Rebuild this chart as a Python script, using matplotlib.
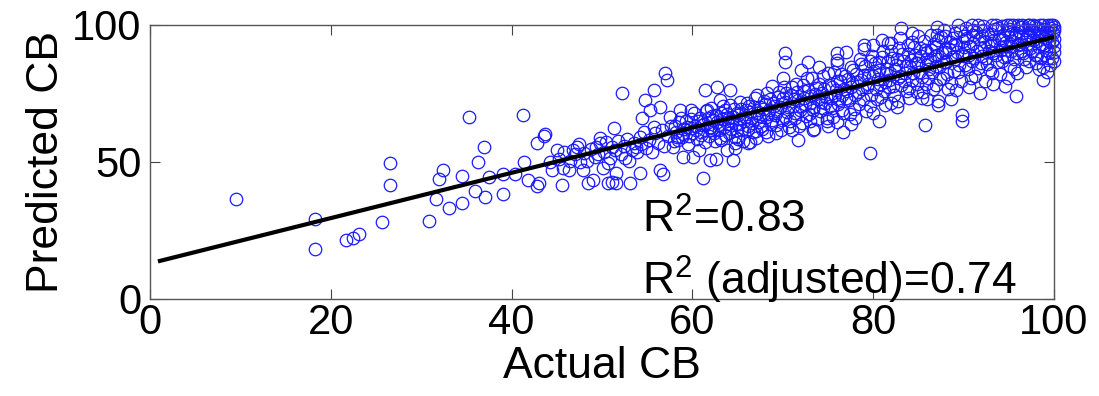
import numpy as np
import matplotlib
matplotlib.use("Agg")
import matplotlib.pyplot as plt

plt.rcParams['font.family'] = ['Liberation Sans', 'DejaVu Sans']
plt.rcParams['mathtext.default'] = 'regular'

# (actual, predicted) pairs, grouped by actual CB range
low_pts = [
    (9.5, 36.4), (18.2, 29.1), (18.2, 18.1), (21.7, 21.5), (22.5, 22.4), (23.1, 23.6),
    (25.7, 28.0), (26.5, 49.5), (26.6, 41.5), (30.9, 28.4), (31.6, 36.4), (32.0, 43.8),
    (32.4, 47.2), (33.1, 33.1), (34.5, 45.0), (34.5, 34.9), (35.3, 66.3), (36.3, 50.1),
    (36.9, 55.6), (36.0, 39.5), (37.1, 37.1), (37.5, 44.6), (39.1, 38.3), (39.1, 45.6),
    (40.4, 45.6), (41.3, 67.2), (41.4, 50.1), (41.8, 43.4), (42.8, 41.4), (42.8, 56.8),
    (43.6, 59.5), (43.7, 60.1), (43.0, 42.2), (44.3, 50.1), (44.5, 47.1), (45.0, 54.4),
    (45.6, 41.6),
]

mid_pts = [
    (45.7, 47.7), (46.3, 47.1), (46.8, 54.4), (47.2, 55.6), (47.6, 50.1), (47.9, 47.1),
    (48.5, 42.2), (49.0, 43.4), (49.2, 51.9), (49.8, 58.6), (49.8, 56.8), (50.1, 47.7),
    (50.7, 49.5), (50.7, 42.2), (51.1, 55.6), (51.3, 62.3), (51.6, 42.2), (51.6, 45.9),
    (52.2, 75.1), (52.5, 51.3), (53.1, 42.2), (53.3, 54.4), (53.8, 55.6), (54.2, 45.9),
    (54.2, 59.2), (54.4, 65.9), (54.8, 72.6), (55.3, 69.0), (55.7, 76.3), (55.7, 62.9),
    (56.4, 70.2), (56.4, 47.1), (57.0, 82.4), (57.2, 79.9), (57.5, 66.5), (57.9, 55.6),
    (58.3, 59.2), (58.6, 69.0), (59.0, 51.9), (59.4, 62.9), (59.9, 69.0), (60.1, 51.9),
    (60.7, 54.4), (61.2, 44.0), (61.4, 76.3), (61.6, 69.0), (61.9, 50.7), (62.1, 61.7),
    (62.3, 65.3), (62.7, 77.5), (63.1, 72.6), (63.2, 58.0), (63.6, 69.0), (63.8, 54.4),
    (64.2, 76.3), (64.5, 66.5), (64.5, 50.7), (64.7, 56.8), (64.9, 61.7),
    (51.1, 42.8), (56.7, 45.5), (62.6, 51.2), (64.7, 55.1),
    (45.2, 51.0), (45.8, 53.5), (46.5, 50.5), (47.0, 52.8), (47.5, 56.5), (48.0, 53.2),
    (48.3, 50.2), (48.8, 54.8), (49.3, 55.5), (49.6, 52.8), (50.2, 53.8), (50.5, 57.2),
    (50.9, 51.6), (51.4, 54.5), (51.8, 57.5), (52.1, 53.0), (52.4, 55.9), (52.8, 58.2),
    (53.0, 50.4), (53.5, 57.0), (53.9, 53.5), (54.3, 56.5), (54.6, 60.8), (54.9, 55.0),
    (55.2, 58.0), (55.5, 53.6), (55.9, 60.4), (56.2, 57.0), (56.6, 61.8), (56.9, 55.8),
    (57.3, 59.5), (57.6, 63.2), (58.0, 57.6), (58.2, 61.0), (58.5, 64.5), (58.8, 59.0),
    (59.1, 62.2), (59.5, 56.6), (59.8, 65.5), (60.0, 60.5),
    (60.3, 63.2), (60.5, 58.3), (60.8, 66.2), (61.0, 61.0), (61.3, 64.0), (61.5, 68.5),
    (61.8, 59.5), (62.0, 62.8), (62.2, 66.8), (62.5, 57.5), (62.7, 64.5), (63.0, 61.5),
    (63.2, 68.0), (63.4, 70.5), (63.6, 59.8), (63.9, 63.8), (64.1, 66.0), (64.3, 62.0),
    (64.6, 69.5), (64.8, 64.0), (65.0, 58.3),
    (58.1, 63.0), (58.4, 58.0), (58.7, 66.0), (59.0, 60.2), (59.3, 64.8), (59.6, 59.5),
    (59.9, 62.5), (60.2, 67.8), (60.4, 61.8), (60.6, 64.9), (60.9, 59.8), (61.1, 63.5),
    (61.4, 57.2), (61.7, 66.0), (61.9, 62.4), (62.1, 69.8), (62.4, 60.4), (62.6, 67.2),
    (62.9, 63.4), (63.1, 58.8), (63.3, 65.6), (63.5, 62.6), (63.8, 67.4), (64.0, 60.6),
    (64.2, 70.8), (64.4, 64.8), (64.7, 59.2), (64.9, 67.9),
]

upper_pts = [
    (65.1, 67.2), (65.3, 72.0), (65.5, 61.5), (65.7, 65.0),
    (65.9, 68.8), (66.1, 63.2), (66.3, 70.5), (66.5, 66.0), (66.7, 60.8), (66.9, 73.4),
    (67.1, 67.8), (67.3, 64.5), (67.5, 69.9), (67.7, 62.0), (67.9, 72.2), (68.1, 66.5),
    (68.3, 75.0), (68.5, 69.0), (68.7, 63.8), (68.9, 71.4), (69.1, 67.0), (69.3, 60.5),
    (69.5, 73.8), (69.7, 70.0), (69.9, 65.4), (70.1, 77.5), (70.3, 71.8), (70.5, 68.2),
    (70.7, 62.8), (70.9, 74.6), (71.1, 70.6), (71.3, 66.0), (71.5, 78.4), (71.7, 72.5),
    (71.9, 68.8), (72.1, 64.2), (72.3, 75.8), (72.5, 71.0), (72.7, 80.5), (72.9, 67.4),
    (73.1, 73.9), (73.3, 70.2), (73.5, 62.0), (73.7, 77.0), (73.9, 72.8), (74.1, 68.5),
    (74.3, 75.2), (74.5, 81.5), (74.7, 71.6), (74.9, 66.0), (75.1, 78.0), (75.3, 73.5),
    (75.5, 69.7), (75.7, 83.0), (75.9, 76.2), (76.1, 71.2), (76.3, 79.5), (76.5, 74.4),
    (76.7, 67.8),
    (66.2, 57.0), (67.0, 58.8), (68.8, 77.8), (70.0, 80.8), (71.0, 61.5), (72.0, 83.5),
    (73.0, 65.0), (74.0, 84.5), (75.0, 63.0), (76.0, 86.0),
    (70.2, 89.7), (70.2, 86.3), (72.8, 86.6), (76.0, 89.7), (76.0, 87.2), (79.0, 92.7),
    (80.0, 92.7), (81.6, 93.4), (79.7, 53.2), (76.7, 61.1), (73.3, 61.5), (71.7, 58.0),
    (68.4, 59.6), (66.4, 57.4), (74.9, 65.0), (76.0, 64.5),
    (76.9, 81.2), (77.1, 76.0), (77.3, 72.5), (77.5, 84.6), (77.7, 78.8), (77.9, 69.5),
    (78.1, 82.0), (78.3, 75.4), (78.5, 87.5), (78.7, 79.8), (78.9, 73.0), (79.1, 85.0),
    (79.3, 77.2), (79.5, 81.6), (79.7, 70.5), (79.9, 88.8), (80.1, 83.2), (80.3, 76.6),
    (80.5, 80.2), (80.7, 86.4), (80.9, 73.8), (81.1, 90.5), (81.3, 79.0), (81.5, 84.0),
    (81.7, 77.4), (81.9, 82.6), (82.1, 88.0), (82.3, 74.5), (82.5, 85.5), (82.7, 80.6),
    (82.9, 91.5), (83.1, 78.2), (83.3, 86.8), (83.5, 82.4), (83.7, 76.0), (83.9, 89.5),
    (84.1, 84.5), (84.3, 80.0), (84.5, 92.0), (84.7, 86.0), (84.9, 78.6),
    (77.0, 90.0), (78.0, 66.2), (79.0, 91.2), (80.0, 68.0), (81.0, 94.5), (82.0, 71.5),
    (83.0, 95.2), (84.0, 73.5), (77.6, 63.8), (80.6, 64.8),
    (83.1, 98.8), (84.3, 97.0), (84.3, 93.9), (82.0, 93.3), (82.6, 70.2), (81.3, 70.8),
    (65.2, 63.8), (65.4, 69.4), (65.6, 57.8), (65.8, 66.4), (66.0, 71.6), (66.2, 62.2),
    (66.4, 68.1), (66.6, 64.2), (66.8, 70.2), (67.0, 61.4), (67.2, 74.6), (67.4, 66.8),
    (67.6, 63.0), (67.8, 69.2), (68.0, 71.0), (68.2, 61.0), (68.4, 67.6), (68.6, 73.0),
    (68.8, 65.2), (69.0, 70.4), (69.2, 63.4), (69.4, 68.6), (69.6, 75.6), (69.8, 61.8),
    (70.0, 73.4), (70.2, 66.4), (70.4, 75.0), (70.6, 70.0), (70.8, 65.0), (71.0, 77.2),
    (71.2, 73.0), (71.4, 68.0), (71.6, 75.4), (71.8, 63.2), (72.0, 70.4), (72.2, 78.0),
    (72.4, 73.2), (72.6, 66.6), (72.8, 76.4), (73.0, 71.4), (73.2, 80.6), (73.4, 68.8),
    (73.6, 74.8), (73.8, 65.6), (74.0, 78.6), (74.2, 72.0), (74.4, 69.6), (74.6, 76.8),
    (74.8, 73.8), (75.0, 82.6), (75.2, 70.6), (75.4, 77.4), (75.6, 66.4), (75.8, 74.4),
    (76.0, 79.6), (76.2, 72.6), (76.4, 82.2), (76.6, 69.0), (76.8, 76.6), (77.0, 73.2),
    (77.2, 80.4), (77.4, 67.4), (77.6, 77.4), (77.8, 83.6), (78.0, 74.4), (78.2, 79.0),
    (78.4, 71.2), (78.6, 85.8), (78.8, 76.6), (79.0, 81.8), (79.2, 68.6), (79.4, 78.6),
    (79.6, 87.0), (79.8, 74.6),
    (80.0, 81.2), (80.2, 86.0), (80.4, 73.0), (80.6, 83.4), (80.8, 78.4), (81.0, 88.4),
    (81.2, 75.8), (81.4, 82.2), (81.6, 86.8), (81.8, 80.0), (82.0, 90.4), (82.2, 77.6),
    (82.4, 83.8), (82.6, 87.6), (82.8, 72.4), (83.0, 81.4), (83.2, 89.4), (83.4, 79.6),
    (83.6, 85.2), (83.8, 92.6), (84.0, 77.0), (84.2, 87.2), (84.4, 82.6), (84.6, 89.0),
    (84.8, 75.6),
]

top_pts = [
    (85.1, 83.0), (85.3, 88.6), (85.5, 75.5), (85.7, 90.8), (85.9, 85.4), (86.1, 80.5),
    (85.0, 95.8), (86.0, 72.8),
    (86.3, 87.2), (86.5, 82.8), (86.7, 93.0), (86.9, 78.0), (87.1, 89.0), (87.3, 84.6),
    (87.5, 95.5), (87.7, 80.8), (87.9, 91.2), (88.1, 86.5), (88.3, 76.5), (88.5, 93.8),
    (88.7, 88.4), (88.9, 83.2), (89.1, 97.0), (89.3, 90.0), (89.5, 85.5), (89.7, 79.5),
    (89.9, 94.2), (90.1, 88.8), (90.3, 99.0), (90.5, 84.0), (90.7, 92.5), (90.9, 87.0),
    (91.1, 96.2), (91.3, 81.5), (91.5, 90.5), (91.7, 94.8), (91.9, 86.2), (92.1, 99.5),
    (92.3, 91.8), (92.5, 88.0), (92.7, 96.8), (92.9, 83.6), (93.1, 93.5), (93.3, 89.6),
    (93.5, 98.4), (93.7, 86.5), (93.9, 95.0), (94.1, 91.0), (94.3, 99.6), (94.5, 88.2),
    (94.7, 93.8), (94.9, 97.5), (95.1, 85.0), (95.3, 92.2), (95.5, 99.8), (95.7, 95.6),
    (95.9, 89.8), (96.1, 97.8), (96.3, 93.2), (96.5, 99.2), (96.7, 87.5), (96.9, 95.0),
    (97.1, 100.0), (97.3, 91.6), (97.5, 98.0), (97.7, 94.4), (97.9, 99.6), (98.1, 89.2),
    (98.3, 96.6), (98.5, 100.0), (98.7, 93.0), (98.9, 98.6), (99.1, 91.0), (99.3, 99.8),
    (99.5, 95.8), (99.7, 100.0), (99.8, 88.0), (99.9, 97.0), (100.0, 92.5), (100.0, 99.2),
    (99.6, 85.5), (99.2, 82.8),
    (86.4, 96.5), (87.8, 98.0), (88.6, 72.8), (89.4, 100.0), (90.6, 77.5), (91.6, 100.0),
    (92.4, 79.5), (93.2, 100.0), (94.0, 82.0), (94.8, 100.0), (95.6, 84.0), (96.4, 90.6),
    (97.2, 87.0), (98.0, 86.0), (98.8, 84.8), (99.4, 90.2), (100.0, 95.0), (100.0, 87.0),
    (96.0, 100.0), (97.0, 96.0), (98.4, 97.8), (99.0, 95.2), (99.9, 100.0), (95.2, 96.6),
    (94.2, 94.6), (93.0, 92.6), (92.0, 95.8), (91.0, 98.2), (90.0, 96.0), (89.0, 93.0),
    (88.0, 90.0), (87.0, 92.0), (86.0, 90.0),
    (87.1, 99.4), (87.1, 96.4), (90.9, 100.0), (93.6, 100.0), (95.1, 100.0), (96.5, 100.0),
    (97.7, 100.0), (85.7, 63.5), (89.8, 67.2), (89.8, 65.0), (95.8, 74.2), (98.8, 80.0),
    (91.8, 75.1), (94.6, 77.8), (93.3, 78.6), (87.2, 70.8), (87.2, 72.2), (85.4, 73.2),
    (89.2, 76.3), (98.4, 84.0),
    (85.0, 86.2), (85.2, 91.6), (85.4, 81.0), (85.6, 94.0), (85.8, 78.4), (86.0, 87.6),
    (86.2, 83.8), (86.4, 91.0), (86.6, 76.8), (86.8, 88.8), (87.0, 85.2), (87.2, 94.6),
    (87.4, 80.4), (87.6, 89.8), (87.8, 86.6), (88.0, 96.0), (88.2, 82.2), (88.4, 91.4),
    (88.6, 78.8), (88.8, 95.2), (89.0, 87.4), (89.2, 92.6), (89.4, 83.0), (89.6, 97.8),
    (89.8, 89.4),
    (90.0, 91.8), (90.2, 85.4), (90.4, 95.4), (90.6, 89.2), (90.8, 80.6), (91.0, 93.4),
    (91.2, 87.8), (91.4, 97.4), (91.6, 84.2), (91.8, 91.6), (92.0, 88.6), (92.2, 98.0),
    (92.4, 93.8), (92.6, 85.8), (92.8, 90.4), (93.0, 96.8), (93.2, 82.6), (93.4, 94.6),
    (93.6, 89.0), (93.8, 99.0), (94.0, 91.8), (94.2, 86.8), (94.4, 96.4), (94.6, 92.4),
    (94.8, 88.8), (95.0, 98.6), (95.2, 90.6), (95.4, 94.0), (95.6, 87.4), (95.8, 97.2),
    (96.0, 92.8), (96.2, 99.4), (96.4, 95.8), (96.6, 89.6), (96.8, 98.2), (97.0, 93.0),
    (97.2, 99.8), (97.4, 96.2), (97.6, 90.4), (97.8, 97.6), (98.0, 94.2), (98.2, 99.0),
    (98.4, 91.8), (98.6, 96.0), (98.8, 100.0), (99.0, 92.8), (99.2, 97.8), (99.4, 94.0),
    (99.6, 99.0), (99.8, 93.6), (100.0, 98.0), (100.0, 90.0), (99.3, 88.0), (98.6, 87.8),
    (97.9, 89.0), (96.9, 84.6), (95.9, 82.4), (94.9, 80.8),
]

# least squares line as drawn
fit_x = [1.1, 100.0]
fit_y = [13.9, 95.6]

r2_text = "R$^2$=0.83"
r2_adj_text = "R$^2$ (adjusted)=0.74"

pts = np.array(low_pts + mid_pts + upper_pts + top_pts)

fig = plt.figure(figsize=(10.99, 3.96), dpi=100)
ax = fig.add_axes([0.1365, 0.245, 0.8225, 0.692])

ax.plot(pts[:, 0], pts[:, 1], 'o', markersize=9, markerfacecolor='none',
        markeredgecolor=(0.1, 0.1, 1.0), markeredgewidth=0.9, clip_on=False, zorder=2)
ax.plot(fit_x, fit_y, color='black', linewidth=3, zorder=3)

ax.text(54.4, 24.1, r2_text, fontsize=32, va='baseline', ha='left')
ax.text(54.4, 1.5, r2_adj_text, fontsize=32, va='baseline', ha='left')

ax.set_xlim(0, 100)
ax.set_ylim(0, 100)
ax.set_xticks([0, 20, 40, 60, 80, 100])
ax.set_yticks([0, 50, 100])
ax.tick_params(direction='in', length=7, width=0.8, labelsize=30, top=True, right=True,
               color='#444444')
ax.tick_params(axis='x', pad=3)
ax.tick_params(axis='y', pad=6)
for s in ax.spines.values():
    s.set_linewidth(1.0)
    s.set_color('#555555')

ax.set_xlabel("Actual CB", fontsize=32, labelpad=2)
ax.set_ylabel("Predicted CB", fontsize=32, labelpad=4)

fig.savefig("out.png", dpi=100)
